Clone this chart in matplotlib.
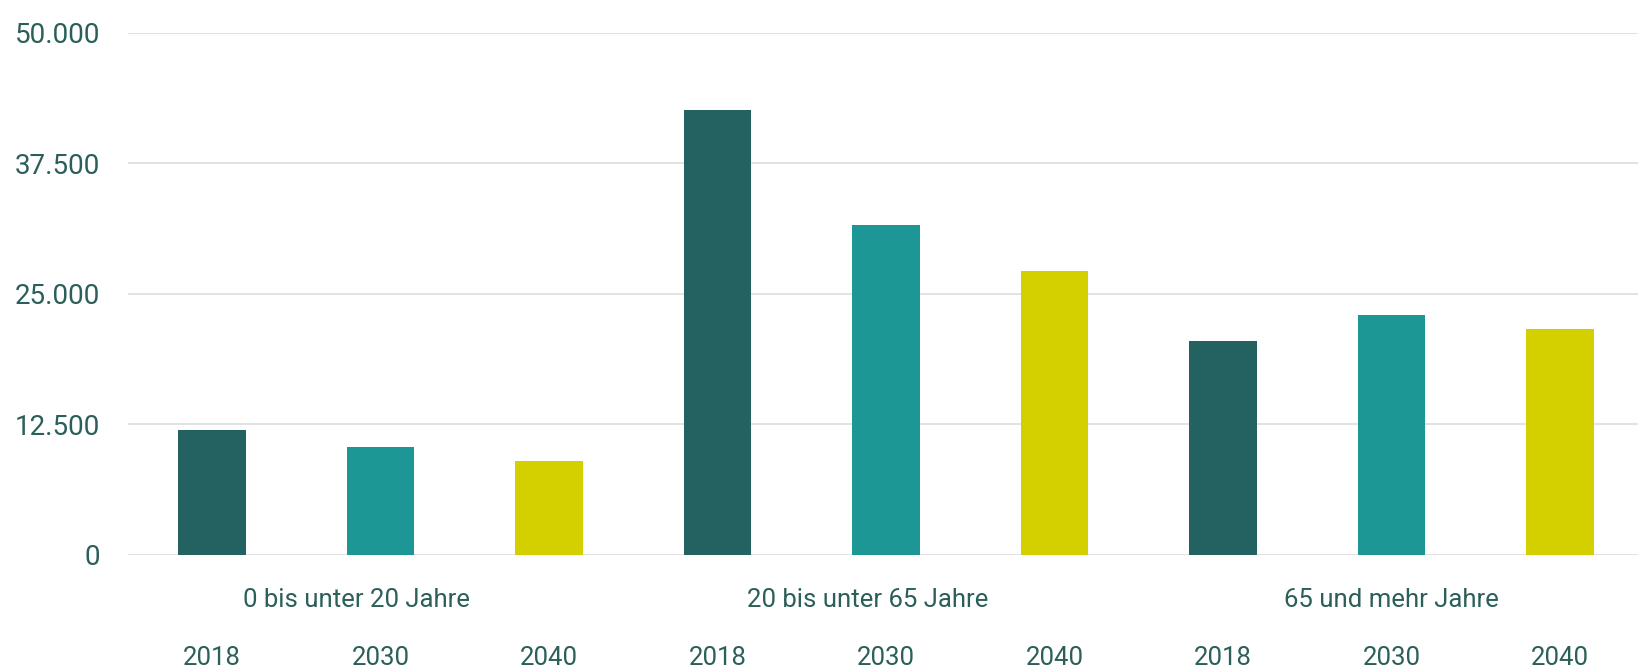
import matplotlib
matplotlib.use("Agg")
import matplotlib.pyplot as plt
import numpy as np

# Population by age group (persons), for the years 2018, 2030 and 2040
age_groups = ["0 bis unter 20 Jahre", "20 bis unter 65 Jahre", "65 und mehr Jahre"]
years = ["2018", "2030", "2040"]
values_2018 = [12000, 42600, 20500]
values_2030 = [10350, 31600, 23000]
values_2040 = [9000, 27200, 21600]
y_ticks = [0, 12500, 25000, 37500, 50000]
y_tick_labels = ["0", "12.500", "25.000", "37.500", "50.000"]

colors = ["#246262", "#1d9696", "#d4d000"]
text_color = "#2b5f5a"
grid_color = "#e2e2e2"
fs = 18.5

plt.rcParams["font.family"] = ["Roboto", "DejaVu Sans"]

fig = plt.figure(figsize=(16.38, 6.68), dpi=100)
ax = fig.add_axes([0.0781, 0.1692, 0.9219, 0.7814])

series = [values_2018, values_2030, values_2040]
n_years = len(years)
for j, vals in enumerate(series):
    xs = np.arange(len(age_groups)) * n_years + j
    ax.bar(xs, vals, width=0.4, color=colors[j], zorder=2, linewidth=0)

ax.set_xlim(-0.4985, 8.463)
ax.set_ylim(0, 50000)

for y in y_ticks:
    ax.axhline(y, color=grid_color, lw=1.4, zorder=1)

ax.set_yticks(y_ticks)
ax.set_yticklabels(y_tick_labels)
ax.tick_params(axis="y", length=0, pad=20, labelsize=20, labelcolor=text_color)
ax.set_xticks([])
for s in ax.spines.values():
    s.set_visible(False)

# Year labels under every bar
trans = ax.get_xaxis_transform()
for g in range(len(age_groups)):
    for j, yr in enumerate(years):
        ax.text(g * n_years + j, -0.21, yr, transform=trans, ha="center",
                va="baseline", fontsize=fs, color=text_color)

# Age group labels
label_offsets = [-0.14, -0.11, 0.0]
for g, name in enumerate(age_groups):
    ax.text(g * n_years + 1 + label_offsets[g], -0.1, name, transform=trans,
            ha="center", va="baseline", fontsize=fs, color=text_color)

fig.savefig("out.png", dpi=100, facecolor="white")
